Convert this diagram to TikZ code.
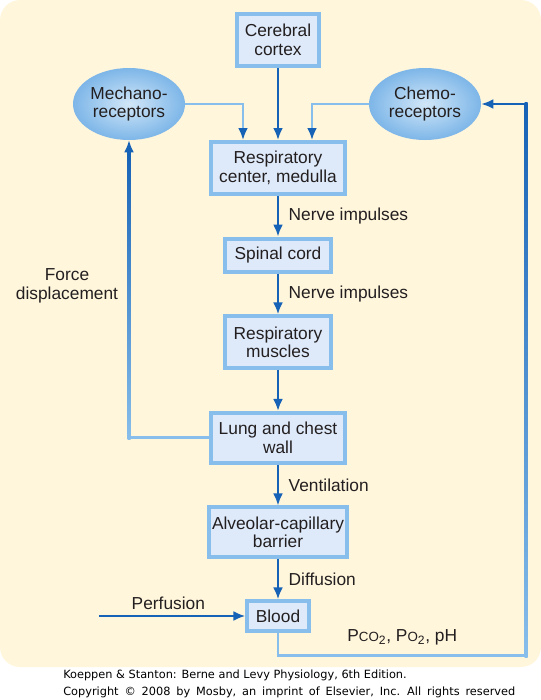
\documentclass[tikz,border=0pt]{standalone}
\usepackage{fontspec}
\setmainfont{Liberation Sans}
\newfontfamily\footfont{DejaVu Sans}
\usepackage{tikz}
\usetikzlibrary{positioning}
\usetikzlibrary{shapes.geometric}
\usetikzlibrary{arrows.meta}
\usetikzlibrary{calc}

\definecolor{creamback}{RGB}{255,246,220}
\definecolor{boxfill}{RGB}{222,234,250}
\definecolor{boxedge}{RGB}{135,190,235}
\definecolor{flowblue}{RGB}{22,98,182}
\definecolor{paleblue}{RGB}{135,190,235}
\definecolor{ovalin}{RGB}{210,231,248}
\definecolor{ovalout}{RGB}{125,182,232}
\definecolor{inktext}{RGB}{35,31,32}

\begin{document}
\begin{tikzpicture}[
                          x=0.75pt, y=-0.75pt,
                          node distance=30.4pt,
                          every node/.style={text=inktext, font=\fontsize{13}{14}\selectfont},
                          boxnode/.style={rectangle, draw=boxedge, fill=boxfill, line width=3pt, align=center, inner sep=2pt},
                          ovalnode/.style={ellipse, inner color=ovalin, outer color=ovalout, minimum width=84pt, minimum height=54pt, align=center, inner sep=0pt},
                          flow/.style={draw=flowblue, line width=2.2pt, -{Latex[length=9pt,width=7.5pt]}},
                          feed/.style={draw=paleblue, line width=2.2pt},
                          feedtip/.style={draw=flowblue, line width=2.2pt, -{Latex[length=9pt,width=7.5pt]}},
                          steplabel/.style={anchor=west},
                      ]
                      \useasboundingbox (0,0) rectangle (541,700);
                      \fill[creamback, rounded corners=15pt] (0,0) rectangle (541,667);

                      %Nodes
                      \node[boxnode, minimum width=61.5pt, minimum height=39pt]  (cortex)   at (278,40)           {Cerebral\\cortex};
                      \node[ovalnode]    (mechano)  at (129,104)                  {Mechano-\\receptors};
                      \node[ovalnode]    (chemo)    at (425,104)                  {Chemo-\\receptors};
                      \node[boxnode, minimum width=101pt, minimum height=39pt]   (center)   [below=54pt of cortex]   {Respiratory\\center, medulla};
                      \node[boxnode, minimum width=79pt, minimum height=25pt]    (spinal)   [below=of center]        {Spinal cord};
                      \node[boxnode, minimum width=79.5pt, minimum height=39pt]  (muscles)  [below=of spinal]        {Respiratory\\muscles};
                      \node[boxnode, minimum width=101pt, minimum height=37.5pt] (lung)     [below=of muscles]       {Lung and chest\\wall};
                      \node[boxnode, minimum width=103.5pt, minimum height=37pt] (barrier)  [below=of lung]          {Alveolar-capillary\\barrier};
                      \node[boxnode, minimum width=46pt, minimum height=22pt]    (blood)    [below=of barrier]       {Blood};

                      \coordinate (perfstart) at ($(blood.west)+(-146,0)$);
                      \coordinate (loopcorner) at ($(blood.south)+(248,23)$);

                      %Labels
                      \node[steplabel] (nerve1)  at ($(center.south)!0.5!(spinal.north)+(6,0)$)   {Nerve impulses};
                      \node[steplabel] (nerve2)  at ($(spinal.south)!0.5!(muscles.north)+(6,0)$)  {Nerve impulses};
                      \node[steplabel] (vent)    at ($(lung.south)!0.5!(barrier.north)+(6,0)$)    {Ventilation};
                      \node[steplabel] (diff)    at ($(barrier.south)!0.5!(blood.north)+(6,0)$)   {Diffusion};
                      \node            (perf)    at ($(perfstart)+(69,-13)$)                      {Perfusion};
                      \node[align=center] (force) at (67,286) {Force\\displacement};
                      \node[steplabel] (gases)   at ($(blood.east)+(32,21)$) {P{\fontsize{10}{10}\selectfont CO}\textsubscript{2}, P{\fontsize{10}{10}\selectfont O}\textsubscript{2}, pH};

                      %Lines
                      \draw[flow] (cortex) -- (center);
                      \draw[feed] (mechano.east) -| ($(center.north)+(-35,-8)$);
                      \draw[feedtip] ($(center.north)+(-35,-10)$) -- ($(center.north)+(-35,0)$);
                      \draw[feed] (chemo.west) -| ($(center.north)+(34,-8)$);
                      \draw[feedtip] ($(center.north)+(34,-10)$) -- ($(center.north)+(34,0)$);
                      \draw[flow] (center) -- (spinal);
                      \draw[flow] (spinal) -- (muscles);
                      \draw[flow] (muscles) -- (lung);
                      \draw[flow] (lung) -- (barrier);
                      \draw[flow] (barrier) -- (blood);
                      \draw[flow] (perfstart) -- (blood.west);

                      % force displacement loop
                      \draw[feed] (lung.west) -| ($(mechano.south |- lung.west)$);
                      \shade[top color=flowblue, bottom color=paleblue] ($(mechano.south)+(-1.5,10)$) rectangle ($(mechano.south |- lung.west)+(1.5,1.5)$);
                      \draw[feedtip] ($(mechano.south)+(0,20)$) -- (mechano.south);

                      % blood gases loop
                      \draw[feed] (blood.south) |- (loopcorner);
                      \shade[top color=flowblue, bottom color=paleblue] ($(loopcorner |- chemo.east)+(-1.5,-1.5)$) rectangle ($(loopcorner)+(1.5,1.5)$);
                      \draw[feedtip] ($(loopcorner |- chemo.east)+(1.5,0)$) -- (chemo.east);

                      %Footer
                      \node[anchor=north west, align=left, inner sep=0pt, font=\footfont\fontsize{8.5}{12.75}\selectfont, text=black] (credit) at (63,670)
                          {Koeppen \& Stanton: Berne and Levy Physiology, 6th Edition.\\{\spaceskip=4.4pt Copyright \textcopyright{} 2008 by Mosby, an imprint of Elsevier, Inc. All rights reserved}};
                  \end{tikzpicture}
\end{document}
